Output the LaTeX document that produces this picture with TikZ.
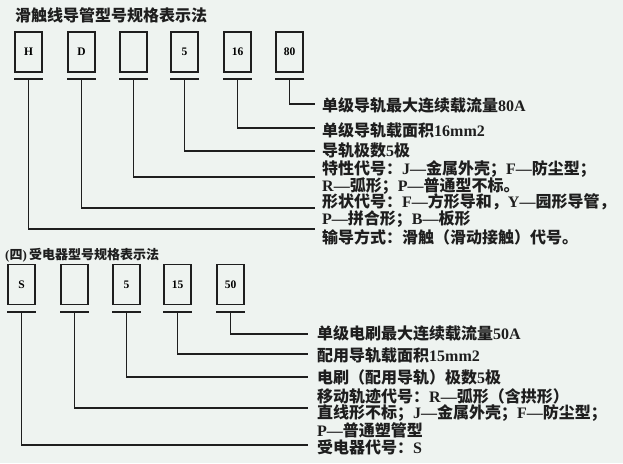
\documentclass[tikz,border=0pt]{standalone}
\usepackage{fontspec}
\setmainfont{Liberation Serif}
\newfontfamily\cjk{Noto Sans CJK SC}
\newcommand{\ltn}[1]{{\normalfont\bfseries #1}}
\definecolor{bg}{HTML}{EEF3F0}
\definecolor{ink}{HTML}{1E1E1E}
\begin{document}
\begin{tikzpicture}[x=1pt,y=-1pt,
  codebox/.style={draw=ink,line width=1.3pt,minimum width=27pt,minimum height=40pt,inner sep=0pt,
    font=\bfseries\fontsize{11.5}{13}\selectfont},
  barline/.style={draw=ink,line width=2pt},
  conn/.style={draw=ink,line width=1.7pt},
  desc/.style={anchor=west,inner sep=0pt,align=left,text=ink,
    font=\cjk\bfseries\fontsize{16}{17}\selectfont},
  ttl/.style={anchor=west,inner sep=0pt,text=ink}]
\fill[bg] (0,0) rectangle (623,463);
\useasboundingbox (0,0) rectangle (623,463);

% ---------- top title ----------
\node[ttl,font=\cjk\bfseries\fontsize{16}{18}\selectfont] (title1) at (15,15) {滑触线导管型号规格表示法};

% ---------- top boxes ----------
\node[codebox] (b1) at (28.5,52) {H};
\node[codebox] (b2) at (81.5,52) {D};
\node[codebox] (b3) at (133.5,52) {};
\node[codebox] (b4) at (184.5,52) {5};
\node[codebox] (b5) at (237.5,52) {16};
\node[codebox] (b6) at (289.5,52) {80};

\foreach \b in {b1,b2,b3,b4,b5,b6}{
  \draw[barline] ([yshift=-6pt]\b.south west) -- ([yshift=-6pt]\b.south east);
}

% line ends
\coordinate (e6) at (315,104);
\coordinate (e5) at (315,128);
\coordinate (e4) at (315,151);
\coordinate (e3) at (315,177);
\coordinate (e2) at (315,208);
\coordinate (e1) at (315,229);

\draw[conn] ([yshift=-6pt]b6.south) |- (e6);
\draw[conn] ([yshift=-6pt]b5.south) |- (e5);
\draw[conn] ([yshift=-6pt]b4.south) |- (e4);
\draw[conn] ([yshift=-6pt]b3.south) |- (e3);
\draw[conn] ([yshift=-6pt]b2.south) |- (e2);
\draw[conn] ([yshift=-6pt]b1.south) |- (e1);

\node[desc] (t6) at (322,105) {单级导轨最大连续载流量\ltn{80A}};
\node[desc] (t5) at (322,130) {单级导轨载面积\ltn{16mm2}};
\node[desc] (t4) at (322,150) {导轨极数\ltn{5}极};
\node[desc] (t3) at (322,177.5) {特性代号：\ltn{J—}金属外壳；\ltn{F—}防尘型；\\\ltn{R—}弧形；\ltn{P—}普通型不标。};
\node[desc] (t2) at (322,211) {形状代号：\ltn{F—}方形导和，\ltn{Y—}园形导管，\\\ltn{P—}拼合形；\ltn{B—}板形};
\node[desc] (t1) at (322,237) {输导方式：滑触（滑动接触）代号。};

% ---------- bottom title ----------
\node[ttl,font=\cjk\bfseries\fontsize{13}{15}\selectfont] (title2) at (5,255) {\ltn{(}四\ltn{)\,}受电器型号规格表示法};

% ---------- bottom boxes ----------
\node[codebox] (c1) at (21.5,284.5) {S};
\node[codebox] (c2) at (74.5,284.5) {};
\node[codebox] (c3) at (126.5,284.5) {5};
\node[codebox] (c4) at (177.5,284.5) {15};
\node[codebox] (c5) at (230.5,284.5) {50};

\foreach \b in {c1,c2,c3,c4,c5}{
  \draw[barline] ([yshift=-6.5pt]\b.south west) -- ([yshift=-6.5pt]\b.south east);
}

\coordinate (f5) at (308,334);
\coordinate (f4) at (308,354);
\coordinate (f3) at (308,377);
\coordinate (f2) at (308,408);
\coordinate (f1) at (308,445);

\draw[conn] ([yshift=-6.5pt]c5.south) |- (f5);
\draw[conn] ([yshift=-6.5pt]c4.south) |- (f4);
\draw[conn] ([yshift=-6.5pt]c3.south) |- (f3);
\draw[conn] ([yshift=-6.5pt]c2.south) |- (f2);
\draw[conn] ([yshift=-6.5pt]c1.south) |- (f1);

\node[desc] (u5) at (317,333) {单级电刷最大连续载流量\ltn{50A}};
\node[desc] (u4) at (317,355) {配用导轨载面积\ltn{15mm2}};
\node[desc] (u3) at (317,377) {电刷（配用导轨）极数\ltn{5}极};
\node[desc,font=\cjk\bfseries\fontsize{16}{16}\selectfont] (u2) at (317,413) {移动轨迹代号：\ltn{R—}弧形（含拱形）\\直线形不标；\ltn{J—}金属外壳；\ltn{F—}防尘型；\\\ltn{P—}普通塑管型};
\node[desc] (u1) at (317,447) {受电器代号：\ltn{S}};
\end{tikzpicture}
\end{document}
